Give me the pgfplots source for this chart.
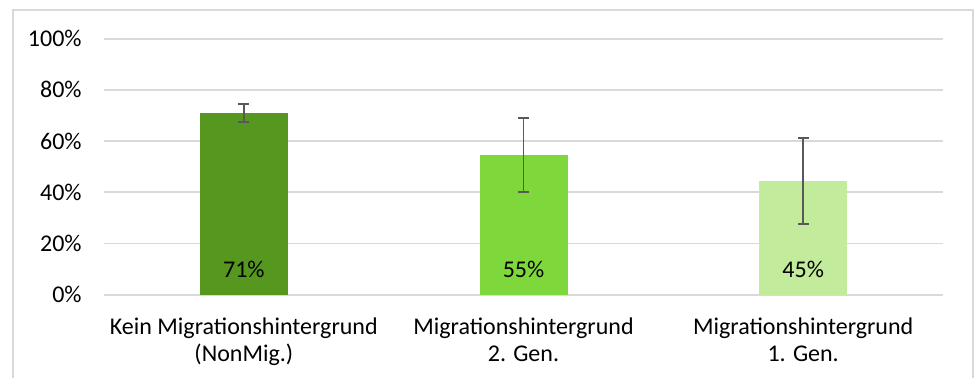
\documentclass[border=0pt]{standalone}
\usepackage{pgfplots}
\pgfplotsset{compat=1.18}
\usepackage{fontspec}
\setmainfont{Carlito}
\definecolor{gridgray}{HTML}{D9D9D9}
\definecolor{errgray}{HTML}{595959}
\definecolor{barA}{HTML}{55971F}
\definecolor{barB}{HTML}{7FD83B}
\definecolor{barC}{HTML}{C2EB9C}
\begin{document}
\begin{tikzpicture}
\useasboundingbox (0,0) rectangle (489pt,189pt);
\draw[gridgray, line width=0.9pt] (6.5pt,0) -- (6.5pt,184pt) -- (486.5pt,184pt) -- (486.5pt,0);
\begin{axis}[
  at={(52pt,41.65pt)}, anchor=south west,
  scale only axis, width=419.5pt, height=128pt,
  xmin=-0.5, xmax=2.5, ymin=0, ymax=100,
  axis line style={draw=none},
  ytick={0,20,40,60,80,100},
  ymajorgrids, grid style={gridgray, line width=0.9pt},
  major tick style={draw=none},
  /pgf/number format/assume math mode=true,
  yticklabel={\pgfmathprintnumber{\tick}\%},
  yticklabel style={font=\fontsize{12}{14}\selectfont, inner sep=0pt, anchor=east, xshift=-11pt},
  xtick={0,1,2},
  xticklabels={{Kein Migrationshintergrund\\(NonMig.)},{Migrationshintergrund\\2. Gen.},{Migrationshintergrund\\1. Gen.}},
  xticklabel style={font=\fontsize{12}{13.8}\selectfont, align=center, anchor=north, inner sep=0pt, yshift=-11.3pt},
  error bars/error bar style={errgray, line width=0.95pt},
  error bars/error mark options={rotate=90, mark size=2.75pt, line width=0.95pt, errgray},
]
\addplot[ybar, bar width=44pt, bar shift=0pt, fill=barA, draw=none,
  error bars/.cd, y dir=both, y explicit]
  coordinates {(0,71) += (0,3.4) -= (0,3.7)};
\addplot[ybar, bar width=44pt, bar shift=0pt, fill=barB, draw=none,
  error bars/.cd, y dir=both, y explicit]
  coordinates {(1,54.6) += (0,14.5) -= (0,14.4)};
\addplot[ybar, bar width=44pt, bar shift=0pt, fill=barC, draw=none,
  error bars/.cd, y dir=both, y explicit]
  coordinates {(2,44.4) += (0,16.9) -= (0,16.7)};
\addplot[draw=none, mark=none, nodes near coords, point meta=explicit symbolic,
  every node near coord/.style={anchor=base, yshift=8.7pt, font=\fontsize{12}{14}\selectfont, text=black}]
  coordinates {(0,0) [71\%] (1,0) [55\%] (2,0) [45\%]};
\end{axis}
\end{tikzpicture}
\end{document}
